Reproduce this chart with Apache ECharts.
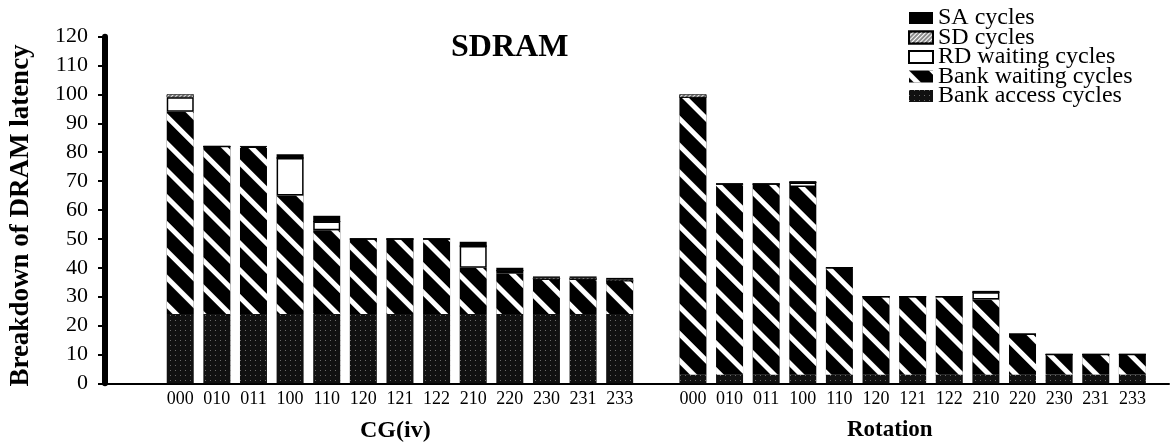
<!DOCTYPE html>
<html>
<head>
<meta charset="utf-8">
<script src="https://cdn.jsdelivr.net/npm/echarts@6/dist/echarts.min.js"></script>
<style>
  html, body { margin: 0; padding: 0; background: #fff; }
  #chart { width: 1172px; height: 446px; }
</style>
</head>
<body>
<div id="chart"></div>
<script>
// configurations on the x axis (same for both groups)
const configs = ['000', '010', '011', '100', '110', '120', '121', '122', '210', '220', '230', '231', '233']
const groups = ['CG(iv)', 'Rotation']
const yTicks = [0, 10, 20, 30, 40, 50, 60, 70, 80, 90, 100, 110, 120]

// CG(iv) group, stack from the bottom
const cgBankAccess  = [24, 24, 24, 24, 24, 24, 24, 24, 24, 24, 24, 24, 24]
const cgBankWaiting = [70, 58, 57.5, 41, 29, 26, 26, 26, 16, 14, 12, 12, 11.5]
const cgRdWaiting   = [5, 0, 0.5, 13, 3, 0, 0, 0, 7.5, 1, 0, 0, 0]
const cgSd          = [1, 0, 0, 0, 0, 0, 0, 0, 0, 0, 0.5, 0.5, 0.5]
const cgSa          = [0, 0, 0, 1.3, 2, 0, 0, 0, 1.5, 1, 0.5, 0.5, 0.5]

// Rotation group
const rotBankAccess  = [3, 3, 3, 3, 3, 3, 3, 3, 3, 3, 3, 3, 3]
const rotBankWaiting = [96, 66, 66, 65, 37, 27, 27, 27, 26, 14, 7, 7, 7]
const rotRdWaiting   = [0, 0, 0, 1.5, 0, 0, 0, 0, 2.5, 0, 0, 0, 0]
const rotSd          = [1, 0, 0, 0, 0, 0, 0, 0, 0, 0, 0, 0, 0]
const rotSa          = [0, 0, 0, 0.5, 0, 0, 0, 0, 0.5, 0, 0, 0, 0]

// two empty slots before, one between the groups, one after
const axisCats = ['', '', ...configs, '', ...configs, '']
const spread = (cg, rot) => [null, null, ...cg, null, ...rot, null]

const serif = "'Liberation Serif', 'Times New Roman', serif"

const chart = echarts.init(document.getElementById('chart'))

const bar = (name, data, itemStyle) => ({
  name,
  type: 'bar',
  stack: 'total',
  barWidth: 27,
  data,
  itemStyle,
  emphasis: { disabled: true }
})

chart.setOption({
  animation: false,
  textStyle: { fontFamily: serif, color: '#000' },
  title: {
    text: 'SDRAM',
    left: 446,
    top: 27,
    textStyle: { fontFamily: serif, fontSize: 32, fontWeight: 'bold', color: '#000' }
  },
  legend: {
    orient: 'vertical',
    left: 903,
    top: 1,
    icon: 'rect',
    itemWidth: 24,
    itemHeight: 12,
    itemGap: -4.5,
    data: ['SA cycles', 'SD cycles', 'RD waiting cycles', 'Bank waiting cycles', 'Bank access cycles'],
    textStyle: { fontFamily: serif, fontSize: 24, color: '#000' }
  },
  grid: { left: 105.4, right: 0.5, top: 36.7, bottom: 62.7 },
  xAxis: {
    type: 'category',
    data: axisCats,
    boundaryGap: false,
    axisLine: { lineStyle: { color: '#000', width: 2 } },
    axisTick: { show: false },
    axisLabel: { interval: 0, margin: 7, fontSize: 18, fontFamily: serif, color: '#000' },
    splitLine: { show: false }
  },
  yAxis: {
    type: 'value',
    min: yTicks[0],
    max: yTicks[yTicks.length - 1],
    interval: yTicks[1] - yTicks[0],
    offset: 2,
    name: 'Breakdown of DRAM latency',
    nameLocation: 'middle',
    nameGap: 70,
    nameTextStyle: { fontFamily: serif, fontSize: 27, fontWeight: 'bold', color: '#000', padding: [0, 11, 0, 0] },
    axisLine: { show: true, lineStyle: { color: '#000', width: 6 } },
    axisTick: { show: true, length: 7, lineStyle: { color: '#000', width: 2 } },
    axisLabel: { margin: 17, fontSize: 22, fontFamily: serif, color: '#000' },
    splitLine: { show: false }
  },
  graphic: [
    {
      type: 'text', left: 360, top: 419,
      style: { text: groups[0], font: 'bold 24px ' + serif, fill: '#000' }
    },
    {
      type: 'text', left: 847, top: 419,
      style: { text: groups[1], font: 'bold 23px ' + serif, fill: '#000' }
    }
  ],
  series: [
    bar('Bank access cycles', spread(cgBankAccess, rotBankAccess), {
      color: '#111',
      decal: { symbol: 'rect', symbolSize: 1, dashArrayX: [1, 4], dashArrayY: [1, 4], color: '#6a6a6a' }
    }),
    bar('Bank waiting cycles', spread(cgBankWaiting, rotBankWaiting), {
      color: '#000',
      decal: { symbol: 'rect', symbolSize: 1, dashArrayX: [1, 0], dashArrayY: [5, 14], rotation: Math.PI / 4, color: '#fff' }
    }),
    bar('RD waiting cycles', spread(cgRdWaiting, rotRdWaiting), {
      color: '#fff', borderColor: '#000', borderWidth: 1.5
    }),
    bar('SD cycles', spread(cgSd, rotSd), {
      color: '#8c8c8c', borderColor: '#000', borderWidth: 0.5,
      decal: { symbol: 'rect', symbolSize: 1, dashArrayX: [1, 0], dashArrayY: [1, 2], rotation: -Math.PI / 4, color: '#fff' }
    }),
    bar('SA cycles', spread(cgSa, rotSa), { color: '#000' })
  ]
})
</script>
</body>
</html>
